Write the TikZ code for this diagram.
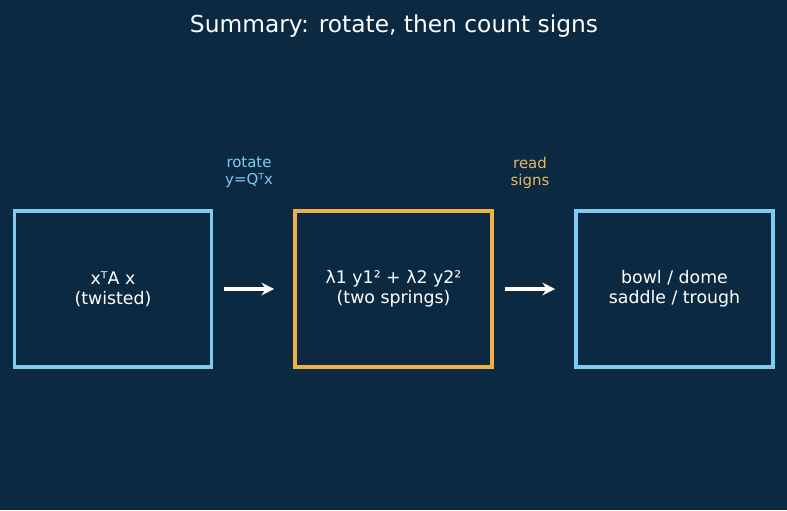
\documentclass[tikz,border=0pt]{standalone}
\usepackage{fontspec}
\setmainfont{DejaVu Sans}
\usepackage{xcolor}
\usetikzlibrary{arrows.meta}
\definecolor{bgnavy}{HTML}{0B2A42}
\definecolor{skyline}{HTML}{7FCBF2}
\definecolor{amber}{HTML}{F2B04A}
\definecolor{amberlabel}{HTML}{E8B85C}

\begin{document}
\begin{tikzpicture}[x=0.75pt, y=-0.75pt,
    stage/.style={draw, line width=2.3pt, fill=bgnavy, text=white,
        minimum width=147.75pt, minimum height=117pt, align=center,
        font=\fontsize{13}{15}\selectfont},
    flow/.style={draw=white, line width=2.4pt, -{Stealth[length=9.5pt, width=9.5pt]},
        shorten <=8.25pt, shorten >=14.5pt},
    steplabel/.style={align=center, font=\fontsize{11.2}{12.75}\selectfont}]
            \fill[bgnavy] (0,0) rectangle (787,510);
            \useasboundingbox (0,0) rectangle (787,510);

            \node[white, font=\fontsize{17.5}{20}\selectfont] (title) at (394,26.5) {Summary: rotate, then count signs};

            % the three stages
            \node[stage, draw=skyline] (twist) at (113,289) {xᵀA x\\(twisted)};
            \node[stage, draw=amber] (spring) at (393.5,289) {λ1 y1² + λ2 y2²\\(two springs)};
            \node[stage, draw=skyline] (shape) at (674.5,289) {bowl / dome\\saddle / trough};

            % arrows between them
            \draw[flow] (twist.east) -- (spring.west);
            \draw[flow] (spring.east) -- (shape.west);

            % what happens on each arrow
            \node[steplabel, skyline] (rotlabel) at (249,172.5) {rotate\\y=Qᵀx};
            \node[steplabel, amberlabel] (readlabel) at (530,172.5) {read\\signs};
        \end{tikzpicture}
\end{document}
